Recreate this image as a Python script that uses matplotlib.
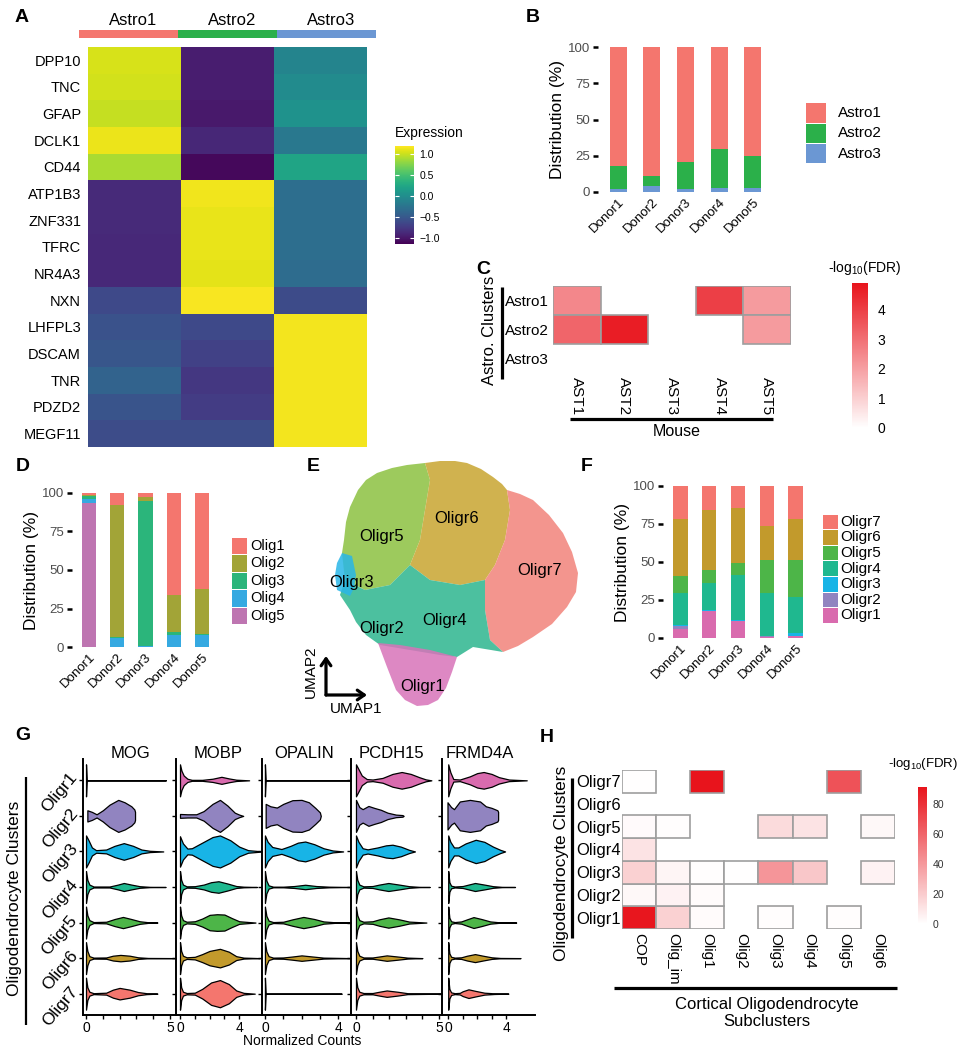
import numpy as np
import matplotlib
matplotlib.use("Agg")
import matplotlib.pyplot as plt
from matplotlib.colors import LinearSegmentedColormap, ListedColormap, Normalize
from matplotlib.patches import Rectangle, Polygon, FancyArrowPatch
from matplotlib.lines import Line2D
from matplotlib.cm import ScalarMappable

plt.rcParams['font.family'] = ['Liberation Sans', 'DejaVu Sans']
plt.rcParams['mathtext.fontset'] = 'custom'
plt.rcParams['mathtext.rm'] = 'Liberation Sans'
plt.rcParams['mathtext.it'] = 'Liberation Sans:italic'
plt.rcParams['mathtext.bf'] = 'Liberation Sans:bold'

nan = np.nan

# ---------------- data ----------------
# A: scaled expression of astrocyte markers
astro_clusters = ['Astro1', 'Astro2', 'Astro3']
astro_colors = ['#F4766E', '#2BB04A', '#6B97D3']
genes_a = ['DPP10', 'TNC', 'GFAP', 'DCLK1', 'CD44', 'ATP1B3', 'ZNF331', 'TFRC',
           'NR4A3', 'NXN', 'LHFPL3', 'DSCAM', 'TNR', 'PDZD2', 'MEGF11']
expr_astro1 = [1.06, 1.04, 0.99, 1.13, 0.90, -0.87, -0.87, -0.88, -0.88, -0.63,
               -0.56, -0.52, -0.40, -0.54, -0.60]
expr_astro2 = [-0.96, -0.96, -0.99, -0.89, -1.10, 1.15, 1.12, 1.12, 1.10, 1.18,
               -0.63, -0.70, -0.77, -0.73, -0.60]
expr_astro3 = [-0.09, -0.02, 0.05, -0.21, 0.22, -0.30, -0.30, -0.30, -0.32, -0.61,
               1.16, 1.16, 1.16, 1.16, 1.16]

# B: astrocyte cluster distribution per donor
donors = ['Donor1', 'Donor2', 'Donor3', 'Donor4', 'Donor5']
astro1_pct = [82.0, 89.0, 79.3, 70.1, 74.9]
astro2_pct = [16.0, 6.9, 18.8, 27.1, 22.3]
astro3_pct = [2.0, 4.1, 1.9, 2.8, 2.8]

# C: overlap with mouse astrocyte types, -log10(FDR)
mouse_types = ['AST1', 'AST2', 'AST3', 'AST4', 'AST5']
c_astro1 = [2.5, nan, nan, 4.0, 2.1]
c_astro2 = [3.2, 4.7, nan, nan, 2.1]
c_astro3 = [nan, nan, nan, nan, nan]

# D: oligodendrocyte (Olig) distribution per donor
olig_types = ['Olig1', 'Olig2', 'Olig3', 'Olig4', 'Olig5']
olig_colors = ['#F4766E', '#A2A437', '#2BB57B', '#35A9E1', '#BE75B1']
olig1_pct = [1.0, 8.0, 2.5, 66.5, 62.6]
olig2_pct = [1.0, 85.5, 2.7, 23.6, 29.0]
olig3_pct = [2.0, 0.9, 94.3, 2.1, 0.3]
olig4_pct = [2.3, 5.6, 0.5, 7.8, 8.1]
olig5_pct = [93.7, 0.0, 0.0, 0.0, 0.0]

# F: oligodendrocyte reclustering (Oligr) distribution per donor
oligr_types = ['Oligr1', 'Oligr2', 'Oligr3', 'Oligr4', 'Oligr5', 'Oligr6', 'Oligr7']
oligr_colors = ['#D96BAE', '#9184C0', '#18B4E6', '#1FB88F', '#4DB548', '#C29A2C', '#F4766E']
oligr1_pct = [6.2, 17.6, 11.0, 0.7, 1.3]
oligr2_pct = [1.7, 0.3, 0.2, 0.3, 0.3]
oligr3_pct = [0.7, 0.4, 0.5, 0.3, 1.5]
oligr4_pct = [20.7, 17.6, 29.8, 28.0, 23.9]
oligr5_pct = [11.6, 8.7, 8.0, 21.9, 24.2]
oligr6_pct = [37.3, 39.9, 35.7, 22.8, 27.0]
oligr7_pct = [21.8, 15.5, 14.8, 26.0, 21.8]

# E: UMAP cluster outlines (embedding units) and label centroids
umap_colors = ['#D873B9', '#29B6E8', '#2DB58E', '#8CC140', '#C8A530', '#F2837A']
umap_oligr1 = ([378, 400, 430, 457, 452, 446, 438, 428, 417, 405, 396, 387],
               [643, 645, 650, 657, 672, 688, 700, 705, 706, 700, 690, 667])
umap_oligr3 = ([337, 335, 337, 342, 352, 356, 354, 350], [590, 575, 563, 553, 556, 575, 588, 596])
umap_oligr4 = ([345, 365, 390, 410, 430, 460, 485, 485, 490, 503, 473, 457, 440, 410, 380, 366, 356, 350, 340],
               [580, 590, 585, 565, 580, 585, 580, 610, 640, 652, 647, 657, 655, 650, 645, 635, 622, 610, 595])
umap_oligr5 = ([344, 346, 350, 358, 366, 377, 392, 407, 425, 430, 425, 420, 410, 390, 365, 345, 342],
               [540, 522, 507, 490, 480, 473, 468, 465, 463, 480, 510, 540, 565, 585, 590, 580, 553])
umap_oligr6 = ([425, 440, 455, 467, 481, 493, 502, 507, 510, 505, 495, 485, 460, 430, 410, 420, 425, 430],
               [463, 461, 461, 463, 469, 477, 484, 490, 510, 540, 565, 580, 585, 580, 565, 540, 510, 480])
umap_oligr7 = ([507, 520, 533, 549, 563, 572, 578, 576, 567, 552, 533, 518, 503, 490, 485, 485, 495, 505, 510],
               [490, 494, 500, 515, 533, 552, 573, 592, 607, 624, 637, 646, 652, 640, 610, 580, 565, 540, 510])
umap_label_x = [423, 382, 352, 445, 382, 457, 540]
umap_label_y = [686, 628, 582, 620, 536, 518, 571]

# G: violin outlines per gene, rows Oligr1..Oligr7: (values, relative half-width)
genes_g = ['MOG', 'MOBP', 'OPALIN', 'PCDH15', 'FRMD4A']
mog_violins = [
    ([0, 0.04, 4.75], [1.0, 0, 0]),
    ([0.08, 0.35, 0.63, 1.0, 1.4, 1.92, 2.3, 2.7, 2.88, 2.92], [0.35, 0.25, 0.1, 0.35, 0.7, 1.0, 0.85, 0.6, 0.4, 0.25]),
    ([0, 0.15, 0.35, 0.6, 1.2, 1.7, 2.25, 2.8, 3.3, 3.8, 4.6], [1.0, 0.7, 0.25, 0.08, 0.12, 0.35, 0.52, 0.35, 0.12, 0.04, 0]),
    ([0, 0.08, 0.2, 0.45, 1.4, 1.9, 2.25, 2.7, 3.2, 3.8, 4.74], [1.0, 0.45, 0.15, 0.03, 0.03, 0.15, 0.25, 0.15, 0.05, 0.01, 0]),
    ([0, 0.08, 0.2, 0.45, 1.2, 1.7, 2.2, 2.7, 3.2, 3.7, 4.25], [1.0, 0.45, 0.15, 0.03, 0.05, 0.22, 0.35, 0.22, 0.08, 0.02, 0]),
    ([0, 0.08, 0.2, 0.45, 1.2, 1.6, 2.05, 2.6, 3.1, 3.7, 5.4], [1.0, 0.45, 0.12, 0.03, 0.04, 0.15, 0.2, 0.15, 0.05, 0.01, 0]),
    ([0, 0.08, 0.2, 0.45, 1.2, 1.6, 2.0, 2.6, 3.1, 3.6, 4.25], [1.0, 0.4, 0.12, 0.03, 0.06, 0.25, 0.36, 0.25, 0.1, 0.03, 0]),
]
mobp_violins = [
    ([0, 0.1, 0.25, 0.5, 0.8, 1.5, 2.2, 2.8, 3.3, 3.8, 4.67], [1.0, 0.6, 0.3, 0.1, 0.03, 0.03, 0.1, 0.22, 0.12, 0.04, 0]),
    ([0.0, 0.5, 1.1, 1.6, 2.2, 2.7, 3.2, 3.7, 4.0, 4.27], [0.12, 0.1, 0.1, 0.3, 0.75, 1.0, 0.65, 0.2, 0.08, 0]),
    ([0, 0.2, 0.5, 0.8, 1.5, 2.2, 2.7, 3.4, 4.0, 4.6, 5.6], [0.95, 0.5, 0.18, 0.2, 0.55, 0.9, 1.0, 0.7, 0.3, 0.08, 0]),
    ([0, 0.08, 0.2, 0.45, 1.0, 1.6, 2.1, 2.6, 3.2, 3.8, 4.3, 5.2], [1.0, 0.45, 0.15, 0.04, 0.05, 0.15, 0.3, 0.36, 0.22, 0.06, 0.02, 0]),
    ([0, 0.08, 0.2, 0.45, 1.0, 1.5, 2.0, 2.5, 3.0, 3.5, 4.0, 5.1], [1.0, 0.45, 0.15, 0.05, 0.08, 0.25, 0.48, 0.52, 0.5, 0.28, 0.08, 0]),
    ([0, 0.08, 0.2, 0.45, 1.0, 1.5, 2.0, 2.7, 3.3, 3.8, 4.3, 5.4], [1.0, 0.45, 0.15, 0.05, 0.08, 0.25, 0.45, 0.58, 0.4, 0.12, 0.03, 0]),
    ([0, 0.08, 0.2, 0.45, 1.0, 1.5, 2.1, 2.7, 3.3, 3.8, 4.3, 5.05], [1.0, 0.4, 0.12, 0.04, 0.06, 0.3, 0.7, 0.85, 0.6, 0.2, 0.05, 0]),
]
opalin_violins = [
    ([0, 0.04, 4.7], [1.0, 0, 0]),
    ([0.04, 0.3, 0.65, 1.0, 1.5, 2.0, 2.4, 2.75, 3.0, 3.05], [0.75, 0.6, 0.52, 0.75, 0.98, 1.0, 0.85, 0.5, 0.22, 0]),
    ([0, 0.15, 0.4, 0.9, 1.4, 1.8, 2.2, 2.7, 3.2, 3.7, 4.27], [1.0, 0.6, 0.28, 0.15, 0.35, 0.55, 0.62, 0.45, 0.2, 0.06, 0]),
    ([0, 0.08, 0.2, 0.45, 1.0, 1.6, 2.2, 2.8, 3.5, 4.7], [1.0, 0.4, 0.1, 0.02, 0.02, 0.06, 0.14, 0.06, 0.02, 0]),
    ([0, 0.08, 0.2, 0.45, 1.0, 1.5, 2.1, 2.7, 3.2, 3.8, 4.7], [1.0, 0.42, 0.12, 0.03, 0.05, 0.2, 0.35, 0.22, 0.07, 0.02, 0]),
    ([0, 0.08, 0.2, 0.45, 1.0, 1.5, 2.0, 2.6, 3.2, 4.7], [1.0, 0.42, 0.12, 0.03, 0.04, 0.1, 0.17, 0.1, 0.03, 0]),
    ([0, 0.04, 4.18], [1.0, 0, 0]),
]
pcdh15_violins = [
    ([0, 0.15, 0.35, 0.65, 1.0, 1.6, 2.2, 2.75, 3.3, 3.8, 4.2, 4.54], [1.0, 0.7, 0.3, 0.08, 0.05, 0.15, 0.4, 0.52, 0.4, 0.2, 0.06, 0]),
    ([0, 0.2, 0.4, 0.75, 1.1, 1.5, 1.9, 2.4, 2.8, 2.87], [1.0, 0.55, 0.42, 0.62, 0.5, 0.38, 0.2, 0.08, 0.05, 0]),
    ([0, 0.15, 0.4, 0.7, 1.3, 1.8, 2.2, 2.7, 3.2, 3.55], [1.0, 0.6, 0.2, 0.13, 0.25, 0.38, 0.42, 0.3, 0.1, 0]),
    ([0, 0.08, 0.2, 0.45, 1.0, 1.4, 1.95, 2.6, 3.2, 3.8, 4.44], [1.0, 0.45, 0.15, 0.04, 0.06, 0.15, 0.25, 0.15, 0.05, 0.01, 0]),
    ([0, 0.08, 0.2, 0.45, 1.0, 1.4, 1.95, 2.6, 3.2, 4.24], [1.0, 0.45, 0.15, 0.05, 0.08, 0.2, 0.32, 0.2, 0.06, 0]),
    ([0, 0.08, 0.2, 0.45, 1.0, 1.4, 1.85, 2.5, 3.1, 4.0], [1.0, 0.45, 0.15, 0.04, 0.04, 0.1, 0.17, 0.1, 0.03, 0]),
    ([0, 0.08, 0.2, 0.45, 1.0, 1.4, 1.85, 2.5, 3.1, 5.3], [1.0, 0.4, 0.12, 0.04, 0.04, 0.12, 0.2, 0.12, 0.03, 0]),
]
frmd4a_violins = [
    ([0, 0.15, 0.35, 0.8, 1.5, 2.0, 2.45, 3.0, 3.5, 4.2, 5.43], [1.0, 0.5, 0.08, 0.05, 0.25, 0.45, 0.52, 0.4, 0.2, 0.05, 0]),
    ([-0.05, 0.2, 0.4, 0.8, 1.5, 2.2, 2.6, 3.0, 3.4, 3.45], [0.85, 0.55, 0.42, 0.9, 1.0, 0.9, 0.6, 0.5, 0.35, 0.25]),
    ([0, 0.15, 0.4, 0.7, 1.2, 1.9, 2.5, 3.1, 3.6, 3.93], [1.0, 0.6, 0.25, 0.25, 0.5, 0.73, 0.6, 0.3, 0.1, 0]),
    ([0, 0.08, 0.2, 0.45, 1.0, 1.4, 1.85, 2.5, 3.1, 3.7, 4.62], [1.0, 0.3, 0.08, 0.03, 0.06, 0.15, 0.25, 0.15, 0.05, 0.01, 0]),
    ([0, 0.08, 0.2, 0.45, 0.9, 1.3, 1.75, 2.3, 2.9, 3.6, 4.7], [1.0, 0.3, 0.08, 0.03, 0.07, 0.2, 0.34, 0.22, 0.07, 0.01, 0]),
    ([0, 0.08, 0.2, 0.45, 0.9, 1.3, 1.85, 2.4, 3.0, 3.6, 5.0], [1.0, 0.3, 0.08, 0.03, 0.05, 0.15, 0.25, 0.15, 0.05, 0.01, 0]),
    ([0, 0.08, 0.2, 0.45, 0.8, 1.0, 1.4, 1.9, 2.5, 3.2, 4.16], [1.0, 0.3, 0.08, 0.03, 0.05, 0.15, 0.27, 0.17, 0.06, 0.02, 0]),
]
g_xmax_tick = [5, 4, 4, 5, 4]

# H: overlap with cortical oligodendrocyte subclusters, -log10(FDR)
h_cols = ['COP', 'Olig_im', 'Olig1', 'Olig2', 'Olig3', 'Olig4', 'Olig5', 'Olig6']
h_oligr1 = [90, 18, 1.5, nan, 1.0, nan, 1.0, nan]
h_oligr2 = [3, 5, 1.5, nan, nan, nan, nan, nan]
h_oligr3 = [18, 4, 1.0, 0.5, 41, 22, nan, 5]
h_oligr4 = [11, nan, nan, nan, nan, nan, nan, nan]
h_oligr5 = [2, 0.8, nan, nan, 14, 11, nan, 3]
h_oligr6 = [nan, nan, nan, nan, nan, nan, nan, nan]
h_oligr7 = [0.5, nan, 91, nan, nan, nan, 67, nan]

# ---------------- figure ----------------
W, H = 962, 1050
fig = plt.figure(figsize=(W / 100, H / 100), dpi=100)


def fx(x):
    return x / W


def fy(y):
    return 1 - y / H


def add_ax(x0, y0, x1, y1):
    return fig.add_axes([fx(x0), fy(y1), (x1 - x0) / W, (y1 - y0) / H])


def fig_line(xs, ys, lw=2.3):
    fig.add_artist(Line2D([fx(v) for v in xs], [fy(v) for v in ys], color='black',
                          lw=lw, solid_capstyle='butt'))


def key_legend(x0, y0, kw, kh, gap, labels, colors, fs):
    for i, (lab, col) in enumerate(zip(labels, colors)):
        fig.add_artist(Rectangle((fx(x0), fy(y0 + (i + 1) * kh - 0.5)), kw / W, (kh - 1) / H,
                                 transform=fig.transFigure, facecolor=col, edgecolor='none'))
        fig.text(fx(x0 + kw + gap), fy(y0 + (i + 0.5) * kh), lab, fontsize=fs,
                 va='center', ha='left')


def stacked(ax, series, colors):
    x = np.arange(1, len(donors) + 1)
    bottom = np.zeros(len(donors))
    for vals, col in zip(series, colors):
        ax.bar(x, vals, 0.5, bottom=bottom, color=col, edgecolor='none')
        bottom += np.array(vals)
    ax.set_xlim(0.4, 5.6)
    ax.set_ylim(0, 100)
    ax.set_yticks([0, 25, 50, 75, 100])
    ax.set_xticks(x)
    ax.set_xticklabels(donors, rotation=45, ha='right', va='top', rotation_mode='anchor', fontsize=9.5)
    for s in ax.spines.values():
        s.set_visible(False)
    ax.tick_params(axis='y', length=3.5, width=1.8, labelsize=9.5, labelcolor='#4D4D4D', pad=2)
    ax.tick_params(axis='x', length=0, pad=3)
    ax.set_ylabel('Distribution (%)', fontsize=12.5, labelpad=2)


def heat_cells(ax, rows, cmap, norm):
    for r, vals in enumerate(rows):
        for c, v in enumerate(vals):
            if not np.isnan(v):
                ax.add_patch(Rectangle((c - 0.5, r - 0.5), 1, 1, facecolor=cmap(norm(v)),
                                       edgecolor='#9E9E9E', lw=1.2))


# ---- A
ax = add_ax(88, 47, 367, 447)
mat_a = np.column_stack([expr_astro1, expr_astro2, expr_astro3])
im = ax.imshow(mat_a, cmap='viridis', vmin=-1.15, vmax=1.2, aspect='auto', interpolation='nearest')
ax.set_yticks(range(len(genes_a)))
ax.set_yticklabels(genes_a, fontsize=10.5)
ax.set_xticks([])
ax.tick_params(axis='y', length=0, pad=5)
for s in ax.spines.values():
    s.set_visible(False)

axb = add_ax(79, 30, 376, 38)
axb.imshow([[0, 1, 2]], cmap=ListedColormap(astro_colors), aspect='auto')
axb.axis('off')
for i, name in enumerate(astro_clusters):
    axb.annotate(name, (i, -0.5), xytext=(3, 6.8), textcoords='offset points',
                 ha='center', va='center', fontsize=12)

cax = add_ax(395, 146, 414, 244)
cb = fig.colorbar(im, cax=cax, ticks=[-1, -0.5, 0, 0.5, 1])
cb.outline.set_visible(False)
cb.set_ticklabels(['\u22121.0', '\u22120.5', '0.0', '0.5', '1.0'])
cax.tick_params(direction='in', length=3, width=0.8, color='white', left=True, right=True,
                labelsize=7.5, pad=4)
fig.text(fx(395), fy(133), 'Expression', fontsize=10, va='center')

# ---- B
ax = add_ax(598, 47, 773, 192)
stacked(ax, [astro3_pct, astro2_pct, astro1_pct], astro_colors[::-1])
key_legend(806, 103, 20, 20.3, 12, astro_clusters, astro_colors, 11)

# ---- C
red_cmap = LinearSegmentedColormap.from_list('wr', ['#FFFFFF', '#E8141C'])
norm_c = Normalize(0, 4.9)
ax = add_ax(553, 286, 791, 373)
heat_cells(ax, [c_astro1, c_astro2, c_astro3], red_cmap, norm_c)
ax.set_xlim(-0.5, 4.5)
ax.set_ylim(2.5, -0.5)
ax.set_yticks(range(3))
ax.set_yticklabels(astro_clusters, fontsize=11)
ax.set_xticks(range(5))
ax.set_xticklabels(mouse_types, rotation=270, fontsize=11, ha='center', va='top')
ax.tick_params(length=0, pad=3)
for s in ax.spines.values():
    s.set_visible(False)
fig_line([502, 502], [287, 379])
fig_line([570, 773], [419, 419])
fig.text(fx(490), fy(330), 'Astro. Clusters', rotation=90, fontsize=12, ha='center', va='center')
fig.text(fx(677), fy(432), 'Mouse', fontsize=11.5, ha='center', va='center')
cax = add_ax(852, 283, 868, 428)
cb = fig.colorbar(ScalarMappable(norm=norm_c, cmap=red_cmap), cax=cax, ticks=[0, 1, 2, 3, 4])
cb.outline.set_visible(False)
cax.tick_params(length=0, labelsize=10, pad=7)
fig.text(fx(828), fy(268), r'-log$_{10}$(FDR)', fontsize=10, va='center')

# ---- D
ax = add_ax(72, 493, 219, 647)
stacked(ax, [olig5_pct, olig4_pct, olig3_pct, olig2_pct, olig1_pct], olig_colors[::-1])
key_legend(232, 537, 15, 17.5, 3, olig_types, olig_colors, 10.5)

# ---- E
ax = add_ax(320, 455, 590, 715)
outlines = [umap_oligr5, umap_oligr6, umap_oligr7, umap_oligr4, umap_oligr3, umap_oligr1]
outline_cols = [umap_colors[3], umap_colors[4], umap_colors[5], umap_colors[2], umap_colors[1], umap_colors[0]]
for (xs, ys), col in zip(outlines, outline_cols):
    ax.add_patch(Polygon(np.column_stack([xs, ys]), closed=True, facecolor=col,
                         edgecolor='none', alpha=0.85))
for name, lx, ly in zip(oligr_types, umap_label_x, umap_label_y):
    ax.text(lx, ly, name, fontsize=12, ha='center', va='center')
ax.set_xlim(320, 590)
ax.set_ylim(715, 455)
ax.axis('off')
for tip in [(326, 656), (367, 695)]:
    fig.add_artist(FancyArrowPatch((fx(326), fy(695)), (fx(tip[0]), fy(tip[1])),
                                   transform=fig.transFigure, arrowstyle='->,head_length=5,head_width=3.5',
                                   lw=2.3, color='black', shrinkA=0, shrinkB=0))
fig.text(fx(311), fy(672), 'UMAP2', rotation=90, fontsize=11, ha='center', va='center')
fig.text(fx(356), fy(709), 'UMAP1', fontsize=11, ha='center', va='center')

# ---- F
ax = add_ax(663, 486, 813, 638)
stacked(ax, [oligr1_pct, oligr2_pct, oligr3_pct, oligr4_pct, oligr5_pct, oligr6_pct, oligr7_pct],
        oligr_colors)
key_legend(823, 514, 15, 15.6, 2, oligr_types[::-1], oligr_colors[::-1], 11)

# ---- G
g_edges = [83, 176, 262, 351, 442, 535]
g_xlims = [(-0.18, 5.36), (-0.27, 5.54), (-0.16, 4.7), (-0.3, 5.18), (-0.43, 6.0)]
g_title_x = [131, 218, 304, 391, 480]
violin_sets = [mog_violins, mobp_violins, opalin_violins, pcdh15_violins, frmd4a_violins]
for k, (gene, prof) in enumerate(zip(genes_g, violin_sets)):
    ax = add_ax(g_edges[k], 759, g_edges[k + 1], 1015)
    for r, (vals, wid) in enumerate(prof):
        w = 0.45 * np.asarray(wid)
        ax.fill_between(vals, r + 1 - w, r + 1 + w, facecolor=oligr_colors[r],
                        edgecolor='black', lw=0.9)
    ax.set_xlim(*g_xlims[k])
    ax.set_ylim(7.6, 0.4)
    ax.set_yticks(range(1, 8))
    ax.set_yticklabels([])
    ax.set_xticks([0, g_xmax_tick[k]])
    ax.set_xticks(range(1, g_xmax_tick[k]), minor=True)
    ax.tick_params(axis='x', which='both', length=3, width=1, labelsize=10, pad=1)
    ax.tick_params(axis='y', length=3, width=1)
    for s in ['top', 'right']:
        ax.spines[s].set_visible(False)
    for s in ['left', 'bottom']:
        ax.spines[s].set_linewidth(1.4)
    ax.patch.set_alpha(0)
    fig.text(fx(g_title_x[k]), fy(753), gene, fontsize=12, ha='center', va='center')
    if k == 0:
        for r, name in enumerate(oligr_types):
            ax.text(-0.09, r + 1 - 0.15, name, transform=ax.get_yaxis_transform(), rotation=50,
                    rotation_mode='anchor', ha='right', va='center', fontsize=12.5)
fig_line([26, 26], [777, 1025], lw=1.6)
fig.text(fx(15), fy(898), 'Oligodendrocyte Clusters', rotation=90, fontsize=12.5,
         ha='center', va='center')
fig.text(fx(302), fy(1041), 'Normalized Counts', fontsize=10, ha='center', va='center')

# ---- H
norm_h = Normalize(0, 91)
ax = add_ax(622, 770, 895, 929)
heat_cells(ax, [h_oligr1, h_oligr2, h_oligr3, h_oligr4, h_oligr5, h_oligr6, h_oligr7], red_cmap, norm_h)
ax.set_xlim(-0.5, 7.5)
ax.set_ylim(-0.5, 6.5)
ax.set_yticks(range(7))
ax.set_yticklabels(oligr_types, fontsize=12)
ax.set_xticks(range(8))
ax.set_xticklabels(h_cols, rotation=270, fontsize=11, ha='center', va='top')
ax.tick_params(length=0, pad=3)
ax.tick_params(axis='y', pad=1)
for s in ax.spines.values():
    s.set_visible(False)
fig_line([572, 572], [778, 938])
fig_line([614, 897], [988, 988])
fig.text(fx(562), fy(863), 'Oligodendrocyte Clusters', rotation=90, fontsize=12.5,
         ha='center', va='center')
fig.text(fx(767), fy(1013), 'Cortical Oligodendrocyte\nSubclusters', fontsize=12,
         ha='center', va='center', linespacing=1.15)
cax = add_ax(918, 787, 927, 924)
cb = fig.colorbar(ScalarMappable(norm=norm_h, cmap=red_cmap), cax=cax, ticks=[0, 20, 40, 60, 80])
cb.outline.set_visible(False)
cax.tick_params(length=0, labelsize=7.5, labelcolor='#333333', pad=4)
fig.text(fx(888), fy(764), r'-log$_{10}$(FDR)', fontsize=9.5, va='center')

# ---- panel letters
for letter, lx, ly in [('A', 22, 18), ('B', 533, 18), ('C', 483, 270), ('D', 23, 467),
                       ('E', 313, 467), ('F', 587, 467), ('G', 23, 735), ('H', 547, 737)]:
    fig.text(fx(lx), fy(ly), letter, fontsize=14, fontweight='bold', ha='center', va='center')

fig.savefig('out.png', dpi=100)
